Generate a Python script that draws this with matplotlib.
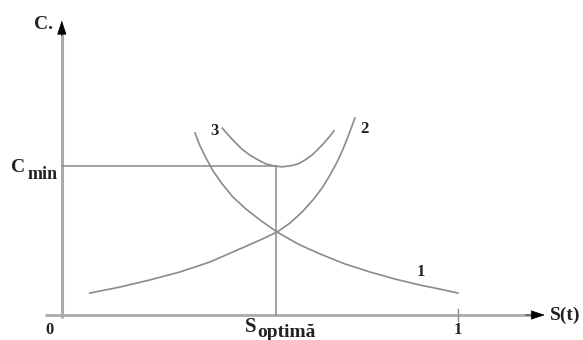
import matplotlib
matplotlib.use("Agg")
import matplotlib.pyplot as plt

# curve 1: decreasing cost
c1_x = [0.334, 0.347, 0.362, 0.380, 0.403, 0.430, 0.463, 0.499, 0.542, 0.595,
        0.651, 0.714, 0.777, 0.841, 0.904, 0.954, 1.000]
c1_y = [0.639, 0.593, 0.551, 0.505, 0.460, 0.414, 0.372, 0.333, 0.291, 0.249,
        0.214, 0.179, 0.151, 0.126, 0.105, 0.091, 0.077]

# curve 2: increasing cost
c2_x = [0.068, 0.144, 0.220, 0.296, 0.372, 0.448, 0.499, 0.542, 0.575, 0.605,
        0.633, 0.656, 0.676, 0.694, 0.709, 0.724, 0.739]
c2_y = [0.077, 0.098, 0.123, 0.151, 0.186, 0.232, 0.263, 0.291, 0.323, 0.361,
        0.404, 0.446, 0.491, 0.537, 0.582, 0.635, 0.691]

# curve 3: total cost
c3_x = [0.403, 0.418, 0.435, 0.453, 0.473, 0.494, 0.514, 0.534, 0.554, 0.575,
        0.595, 0.613, 0.630, 0.646, 0.661, 0.676, 0.686]
c3_y = [0.656, 0.632, 0.607, 0.582, 0.561, 0.544, 0.530, 0.523, 0.520, 0.523,
        0.530, 0.544, 0.561, 0.582, 0.604, 0.628, 0.646]

s_opt = 0.540
c_min = 0.522

curve_labels = ["1", "2", "3"]
label_pos = [(0.905, 0.150), (0.762, 0.651), (0.384, 0.645)]

FONT = "Liberation Serif"
GREY = "#8a8a8a"
AXIS = "#aaaaaa"

fig = plt.figure(figsize=(5.83, 3.40), dpi=100)
ax = fig.add_axes([0, 0, 1, 1])
ax.set_xlim(-63 / 395, 520 / 395)
ax.set_ylim(-25 / 285, 315 / 285)
ax.axis("off")

# axes with arrow heads
ax.plot([-0.046, 1.19], [0, 0], color=AXIS, lw=2.0, solid_capstyle="butt")
ax.plot([-0.003, -0.003], [-0.012, 0.99], color=AXIS, lw=2.2, solid_capstyle="butt")
ax.annotate("", xy=(1.220, 0), xytext=(1.17, 0),
            arrowprops=dict(arrowstyle="-|>,head_length=0.9,head_width=0.3",
                            color="black", lw=0.5, shrinkA=0, shrinkB=0))
ax.annotate("", xy=(-0.003, 1.033), xytext=(-0.003, 0.98),
            arrowprops=dict(arrowstyle="-|>,head_length=0.9,head_width=0.3",
                            color="black", lw=0.5, shrinkA=0, shrinkB=0))

# tick at S = 1
ax.plot([1.0, 1.0], [-0.02, 0.02], color=GREY, lw=1.0)

# guide lines to the optimum
ax.plot([0, s_opt], [c_min, c_min], color=GREY, lw=1.1)
ax.plot([s_opt, s_opt], [0, c_min], color=GREY, lw=1.1)

for xs, ys in [(c1_x, c1_y), (c2_x, c2_y), (c3_x, c3_y)]:
    ax.plot(xs, ys, color=GREY, lw=1.2, solid_joinstyle="round")

for lab, (lx, ly) in zip(curve_labels, label_pos):
    ax.text(lx, ly, lab, fontsize=12, fontweight="bold", family=FONT,
            ha="center", va="center", color="#222222")

txt = dict(fontweight="bold", family=FONT, color="#222222")
ax.text(-0.0506, 1.021, "C.", fontsize=14, ha="center", va="center", **txt)
ax.text(-0.131, 0.502, "C", fontsize=14, ha="left", va="baseline", **txt)
ax.text(-0.089, 0.477, "min", fontsize=13, ha="left", va="baseline", **txt)
ax.text(0.461, -0.060, "S", fontsize=15, ha="left", va="baseline", **txt)
ax.text(0.493, -0.077, "optimă", fontsize=14, ha="left", va="baseline", **txt)
ax.text(-0.035, -0.053, "0", fontsize=12, ha="center", va="center", **txt)
ax.text(1.0, -0.053, "1", fontsize=12, ha="center", va="center", **txt)
ax.text(1.232, 0.0, "S(t)", fontsize=14, ha="left", va="center", **txt)

fig.savefig("out.png", dpi=100)
